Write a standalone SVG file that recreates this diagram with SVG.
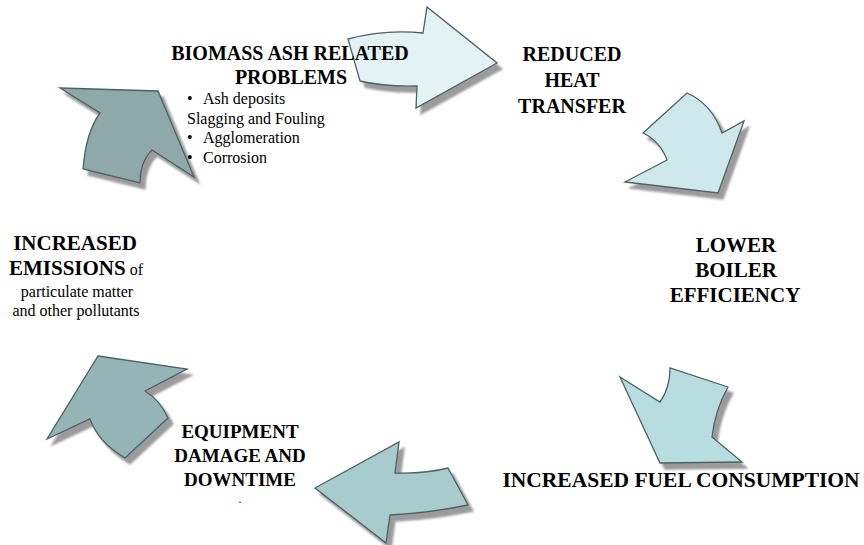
<svg xmlns="http://www.w3.org/2000/svg" width="864" height="545" viewBox="0 0 864 545">
<defs>
<filter id="sh" x="-20%" y="-20%" width="150%" height="150%">
<feDropShadow dx="5" dy="6" stdDeviation="1.2" flood-color="#8a8a8a" flood-opacity="0.85"/>
</filter>
<style>
.ar{stroke:#4d6163;stroke-width:1.3;stroke-linejoin:miter;filter:url(#sh)}
.h{font-weight:bold;fill:#000;text-anchor:middle}
.t{fill:#000}
</style>
</defs>
<rect width="864" height="545" fill="#fff"/>
<g id="connectors">
<path id="a1" class="ar" fill="#e2f2f5" d="M348,39 Q385,29 423,33 L427,7 L497,63 L416,108 L417,86 Q385,87 360,81 Z"/>
<path id="a2" class="ar" fill="#cfe8ec" d="M643,133 L687,93 Q712,104 722,133 L744,121 L718,193 L625,182 L667,160 Q660,141 643,133 Z"/>
<path id="a3" class="ar" fill="#b8dde1" d="M620,377 L660,402 Q670,388 670,368 L728,387 Q715,410 712,437 L742,462 L660,463 Z"/>
<path id="a4" class="ar" fill="#a8cbce" d="M315,488 L399,442 L395,473 Q425,474 448,468 L468,505 Q430,513 390,515 L386,543 Z"/>
<path id="a5" class="ar" fill="#94b4b6" d="M98,356 L187,369 L145,391 Q160,400 168,418 L125,458 Q98,442 90,419 L47,439 Z"/>
<path id="a6" class="ar" fill="#8fa9ab" d="M60,88 L158,91 L194,177 L152,150 Q140,162 140,183 L83,169 Q86,132 100,113 Z"/>
</g>
<g font-family="Liberation Serif, Times New Roman, DejaVu Serif, serif">
<g id="n1">
<text class="h" x="290" y="60" font-size="20">BIOMASS ASH RELATED</text>
<text class="h" x="291" y="84" font-size="20">PROBLEMS</text>
<text class="t" font-size="16"><tspan x="187" y="104">•</tspan><tspan x="203" y="104">Ash deposits</tspan><tspan x="187" y="123.5">Slagging and Fouling</tspan><tspan x="187" y="143">•</tspan><tspan x="203" y="143">Agglomeration</tspan><tspan x="187" y="162.5">•</tspan><tspan x="203" y="162.5">Corrosion</tspan></text>
</g>
<g id="n2">
<text class="h" x="572" y="61" font-size="20">REDUCED</text>
<text class="h" x="572" y="87" font-size="20">HEAT</text>
<text class="h" x="572" y="113" font-size="20">TRANSFER</text>
</g>
<g id="n3">
<text class="h" x="736" y="252" font-size="21">LOWER</text>
<text class="h" x="736" y="277" font-size="21">BOILER</text>
<text class="h" x="735" y="302" font-size="21">EFFICIENCY</text>
</g>
<g id="n4">
<text class="h" x="681" y="487" font-size="21.5">INCREASED FUEL CONSUMPTION</text>
</g>
<g id="n5">
<text class="h" x="240" y="438" font-size="19">EQUIPMENT</text>
<text class="h" x="240" y="462" font-size="19">DAMAGE AND</text>
<text class="h" x="240" y="486" font-size="19">DOWNTIME</text>
<text class="t" x="240" y="503" font-size="12" text-anchor="middle">.</text>
</g>
<g id="n6">
<text class="h" x="75" y="250" font-size="21">INCREASED</text>
<text class="h" x="76" y="275" font-size="21">EMISSIONS<tspan font-weight="normal" font-size="16"> of</tspan></text>
<text class="t" x="77" y="297" font-size="16" text-anchor="middle">particulate matter</text>
<text class="t" x="76" y="316" font-size="16" text-anchor="middle">and other pollutants</text>
</g>
</g>
</svg>
